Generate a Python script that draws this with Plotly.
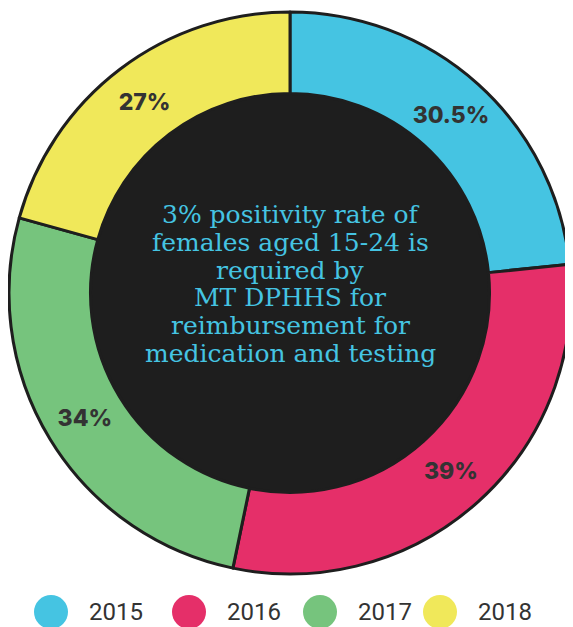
import plotly.graph_objects as go

years = ["2015", "2016", "2017", "2018"]
rates = [30.5, 39, 34, 27]
colors = ["#45c4e2", "#e52f69", "#76c47d", "#f0e85a"]
center_lines = ["3% positivity rate of", "females aged 15-24 is", "required by",
                "MT DPHHS for", "reimbursement for", "medication and testing"]

W, H = 573, 627
OFF = 8  # page body margin offset
cx, cy, R = 290 - OFF, 293 - OFF, 281
hole = 0.71

dom_x = [(cx - R) / W, (cx + R) / W]
dom_y = [1 - (cy + R) / H, 1 - (cy - R) / H]

fig = go.Figure()
fig.add_trace(go.Pie(
    labels=years, values=rates, sort=False, direction="clockwise", rotation=0,
    hole=hole, domain=dict(x=dom_x, y=dom_y),
    marker=dict(colors=colors, line=dict(color="#1e1e1e", width=3)),
    texttemplate="%{value}%", textposition="inside", insidetextorientation="horizontal",
    textfont=dict(family="Inter", size=23, color="#333333", weight=800),
    hoverinfo="label+value", showlegend=False,
))

r_in = R * hole
fig.add_shape(type="circle", xref="paper", yref="paper", layer="below",
              x0=(cx - r_in) / W, x1=(cx + r_in) / W,
              y0=1 - (cy + r_in) / H, y1=1 - (cy - r_in) / H,
              fillcolor="#1e1e1e", line=dict(color="#1e1e1e", width=0))

line_gap = 27.7
y_first = 284 - OFF - line_gap * (len(center_lines) - 1) / 2
for i, ln in enumerate(center_lines):
    fig.add_annotation(x=cx / W, y=1 - (y_first + i * line_gap) / H, xref="paper", yref="paper",
                       text=ln, showarrow=False, yanchor="middle",
                       font=dict(family="DejaVu Serif", size=25, color="#45c4e2"))

# legend drawn as large circles + labels
leg_cx = [51 - OFF, 189 - OFF, 320 - OFF, 440 - OFF]
leg_y = 612 - OFF
rad = 17
for yr, col, lx in zip(years, colors, leg_cx):
    fig.add_shape(type="circle", xref="paper", yref="paper",
                  x0=(lx - rad) / W, x1=(lx + rad) / W,
                  y0=1 - (leg_y + rad) / H, y1=1 - (leg_y - rad) / H,
                  fillcolor=col, line=dict(width=0))
    fig.add_annotation(x=(lx + 36) / W, y=1 - leg_y / H, xref="paper", yref="paper",
                       text=yr, showarrow=False, xanchor="left", yanchor="middle",
                       font=dict(family="Roboto", size=24, color="#333333"))

fig.update_layout(width=W, height=H, margin=dict(l=0, r=0, t=0, b=0),
                  paper_bgcolor="white", plot_bgcolor="white", showlegend=False)

fig.write_html("out.html")
